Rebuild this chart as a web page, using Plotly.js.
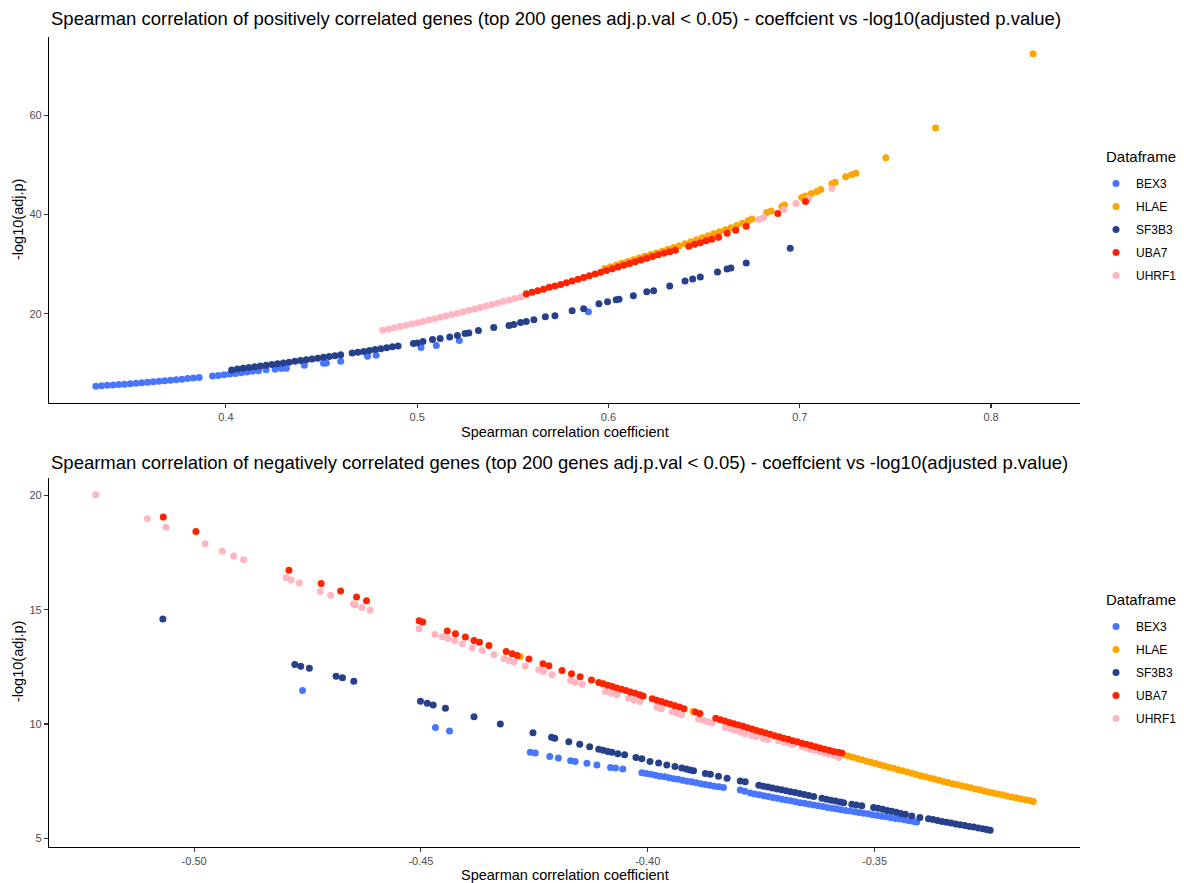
<!DOCTYPE html>
<html>
<head>
<meta charset="utf-8">
<script src="https://cdn.plot.ly/plotly-3.0.1.min.js"></script>
<style>html,body{margin:0;padding:0;background:#fff;}#chart{width:1184px;height:883px;}</style>
</head>
<body>
<div id="chart"></div>
<script>
// ---------- Data ----------
const seriesNames = ["BEX3", "HLAE", "SF3B3", "UBA7", "UHRF1"];
const seriesColors = ["#4876FF", "#FFA500", "#27408B", "#FF2400", "#FFB6C1"];

// Top panel: positively correlated genes
const posBEX3x = [0.332,0.335,0.338,0.341,0.344,0.347,0.350,0.353,0.356,0.359,0.362,0.365,0.368,0.371,0.374,0.377,0.380,0.383,0.386,0.393,0.396,0.399,0.402,0.405,0.408,0.411,0.414,0.417,0.421,0.4257,0.4290,0.4316,0.4410,0.4510,0.4525,0.4600,0.4740,0.4785,0.5020,0.5100,0.5220,0.5895];
const posBEX3y = [5.40,5.48,5.56,5.64,5.72,5.80,5.89,5.98,6.07,6.17,6.27,6.37,6.47,6.58,6.69,6.80,6.92,7.04,7.16,7.44,7.56,7.69,7.82,7.96,8.10,8.24,8.38,8.52,8.70,8.80,8.95,9.00,9.60,10.00,10.05,10.40,11.40,11.60,13.20,13.60,14.60,20.40];

const posHLAEx = [0.598,0.601,0.604,0.607,0.610,0.613,0.616,0.619,0.622,0.625,0.628,0.631,0.634,0.637,0.640,0.643,0.646,0.649,0.652,0.655,0.658,0.661,0.664,0.667,0.670,0.673,0.675,0.6827,0.685,0.6906,0.692,0.701,0.703,0.706,0.709,0.711,0.7168,0.7185,0.724,0.727,0.7293,0.745,0.771,0.822];
const posHLAEy = [29.1,29.45,29.8,30.15,30.5,30.85,31.2,31.55,31.9,32.25,32.6,33.0,33.35,33.7,34.1,34.5,34.9,35.3,35.7,36.1,36.5,36.9,37.3,37.75,38.2,38.7,39.1,40.4,40.7,41.6,41.9,43.4,43.7,44.2,44.6,45.0,46.2,46.5,47.6,48.0,48.3,51.4,57.4,72.4];

const posSF3B3x = [0.403,0.406,0.409,0.412,0.415,0.418,0.421,0.424,0.427,0.430,0.433,0.436,0.439,0.442,0.445,0.448,0.451,0.454,0.457,0.460,0.466,0.469,0.472,0.475,0.478,0.481,0.484,0.487,0.490,0.498,0.500,0.503,0.508,0.512,0.517,0.521,0.525,0.527,0.532,0.540,0.548,0.5505,0.554,0.557,0.561,0.567,0.572,0.581,0.587,0.595,0.5995,0.604,0.6055,0.613,0.620,0.6236,0.632,0.640,0.644,0.648,0.657,0.662,0.664,0.672,0.695];
const posSF3B3y = [8.67,8.83,8.98,9.14,9.29,9.45,9.60,9.76,9.92,10.07,10.23,10.39,10.55,10.71,10.87,11.03,11.20,11.37,11.54,11.71,12.06,12.23,12.40,12.58,12.76,12.94,13.12,13.31,13.50,14.0,14.1,14.4,14.8,15.0,15.3,15.6,16.0,16.1,16.6,17.2,17.6,17.8,18.2,18.4,18.8,19.4,19.6,20.6,21.0,22.0,22.4,22.8,22.9,23.6,24.4,24.6,25.6,26.6,27.0,27.4,28.4,29.0,29.2,30.2,33.2];

const posUBA7x = [0.557,0.560,0.563,0.566,0.569,0.572,0.575,0.578,0.581,0.584,0.587,0.590,0.593,0.596,0.599,0.602,0.605,0.608,0.611,0.614,0.617,0.620,0.623,0.626,0.629,0.632,0.635,0.642,0.645,0.648,0.651,0.654,0.6576,0.662,0.6665,0.672,0.6885,0.703];
const posUBA7y = [24.0,24.3,24.6,24.9,25.3,25.6,25.9,26.25,26.6,26.95,27.3,27.65,28.0,28.35,28.7,29.05,29.4,29.75,30.1,30.45,30.8,31.15,31.5,31.85,32.2,32.5,32.8,33.6,34.0,34.3,34.7,35.0,35.4,36.2,36.8,37.6,40.2,42.6];

const posUHRF1x = [0.482,0.485,0.488,0.491,0.494,0.497,0.500,0.503,0.506,0.509,0.512,0.515,0.518,0.521,0.524,0.527,0.530,0.533,0.536,0.539,0.542,0.545,0.548,0.551,0.554,0.557,0.6785,0.681,0.6916,0.698,0.7047,0.7168];
const posUHRF1y = [16.65,16.9,17.15,17.4,17.65,17.9,18.15,18.42,18.7,18.98,19.26,19.54,19.82,20.1,20.38,20.67,20.96,21.25,21.55,21.85,22.15,22.45,22.76,23.07,23.38,23.7,39.0,39.4,41.0,42.2,43.2,45.2];

// Bottom panel: negatively correlated genes
const negBEX3x = [-0.4761,-0.4468,-0.4437,-0.4259,-0.4248,-0.4216,-0.4197,-0.4170,-0.4160,-0.4134,-0.4112,-0.4082,-0.4071,-0.4055,-0.4013,-0.4003,-0.3993,-0.3983,-0.3973,-0.3963,-0.3953,-0.3943,-0.3933,-0.3923,-0.3913,-0.3903,-0.3893,-0.3883,-0.3873,-0.3863,-0.3853,-0.3843,-0.3833,-0.3796,-0.3786,-0.3774,-0.3764,-0.3754,-0.3744,-0.3734,-0.3724,-0.3714,-0.3704,-0.3694,-0.3684,-0.3674,-0.3664,-0.3654,-0.3644,-0.3634,-0.3624,-0.3614,-0.3604,-0.3594,-0.3584,-0.3574,-0.3564,-0.3554,-0.3544,-0.3534,-0.3524,-0.3514,-0.3504,-0.3494,-0.3484,-0.3474,-0.3464,-0.3454,-0.3444,-0.3434,-0.3424,-0.3414,-0.3407];
const negBEX3y = [11.46,9.85,9.69,8.76,8.73,8.58,8.51,8.39,8.36,8.28,8.21,8.10,8.07,8.03,7.87,7.83,7.80,7.76,7.72,7.69,7.65,7.61,7.58,7.54,7.50,7.47,7.43,7.39,7.35,7.32,7.28,7.25,7.22,7.11,7.06,6.98,6.94,6.90,6.86,6.83,6.79,6.75,6.71,6.68,6.64,6.60,6.56,6.53,6.49,6.46,6.42,6.39,6.35,6.32,6.29,6.25,6.22,6.19,6.16,6.13,6.10,6.07,6.03,6.00,5.97,5.94,5.90,5.87,5.84,5.81,5.77,5.74,5.71];

const negHLAEx = [-0.4281,-0.4100,-0.4015,-0.3900,-0.3820,-0.3700,-0.3620,-0.3568,-0.3558,-0.3548,-0.3538,-0.3528,-0.3518,-0.3508,-0.3498,-0.3488,-0.3478,-0.3468,-0.3458,-0.3448,-0.3438,-0.3428,-0.3418,-0.3408,-0.3398,-0.3388,-0.3378,-0.3368,-0.3358,-0.3348,-0.3338,-0.3328,-0.3318,-0.3308,-0.3298,-0.3288,-0.3278,-0.3268,-0.3258,-0.3248,-0.3238,-0.3228,-0.3218,-0.3208,-0.3198,-0.3188,-0.3178,-0.3168,-0.3158,-0.3150];
const negHLAEy = [12.95,11.76,11.24,10.55,10.05,9.34,8.92,8.66,8.60,8.55,8.49,8.44,8.38,8.33,8.27,8.22,8.16,8.11,8.06,8.00,7.95,7.90,7.85,7.79,7.74,7.69,7.64,7.59,7.54,7.49,7.44,7.39,7.35,7.30,7.25,7.21,7.16,7.12,7.07,7.03,6.98,6.94,6.90,6.85,6.81,6.77,6.73,6.69,6.65,6.61];

const negSF3B3x = [-0.5069,-0.4778,-0.4765,-0.4746,-0.4687,-0.4673,-0.4648,-0.4501,-0.4486,-0.4473,-0.4446,-0.4383,-0.4325,-0.4253,-0.4212,-0.4205,-0.4174,-0.4150,-0.4128,-0.4108,-0.4098,-0.4088,-0.4079,-0.4066,-0.4051,-0.4026,-0.4013,-0.3995,-0.3976,-0.3958,-0.3940,-0.3925,-0.3915,-0.3907,-0.3899,-0.3873,-0.3862,-0.3844,-0.3825,-0.3796,-0.3785,-0.3755,-0.3745,-0.3735,-0.3725,-0.3715,-0.3705,-0.3695,-0.3685,-0.3675,-0.3665,-0.3655,-0.3645,-0.3634,-0.3616,-0.3606,-0.3596,-0.3586,-0.3576,-0.3568,-0.3550,-0.3540,-0.3528,-0.3502,-0.3492,-0.3482,-0.3472,-0.3462,-0.3452,-0.3442,-0.3432,-0.3418,-0.3400,-0.3381,-0.3371,-0.3361,-0.3351,-0.3341,-0.3331,-0.3321,-0.3311,-0.3301,-0.3291,-0.3281,-0.3271,-0.3261,-0.3253,-0.3245];
const negSF3B3y = [14.59,12.60,12.53,12.44,12.09,12.02,11.87,11.00,10.91,10.83,10.69,10.32,10.00,9.62,9.42,9.38,9.22,9.11,9.00,8.90,8.85,8.80,8.76,8.70,8.65,8.54,8.48,8.36,8.29,8.21,8.14,8.07,8.03,7.99,7.95,7.84,7.80,7.71,7.63,7.51,7.47,7.32,7.28,7.24,7.20,7.16,7.12,7.08,7.04,7.00,6.96,6.92,6.87,6.83,6.75,6.71,6.67,6.63,6.59,6.56,6.49,6.46,6.42,6.35,6.31,6.27,6.22,6.18,6.14,6.09,6.05,5.98,5.91,5.86,5.82,5.78,5.74,5.70,5.67,5.63,5.59,5.56,5.52,5.49,5.45,5.42,5.39,5.35];

const negUBA7x = [-0.5068,-0.4996,-0.4791,-0.4720,-0.4677,-0.4642,-0.4620,-0.4504,-0.4496,-0.4442,-0.4424,-0.4402,-0.4383,-0.4371,-0.4350,-0.4312,-0.4299,-0.4288,-0.4262,-0.4231,-0.4218,-0.4189,-0.4168,-0.4149,-0.4124,-0.4108,-0.4098,-0.4088,-0.4078,-0.4068,-0.4058,-0.4048,-0.4038,-0.4028,-0.4018,-0.4010,-0.3990,-0.3980,-0.3970,-0.3960,-0.3950,-0.3940,-0.3930,-0.3920,-0.3895,-0.3885,-0.3850,-0.3840,-0.3830,-0.3820,-0.3810,-0.3800,-0.3790,-0.3780,-0.3770,-0.3760,-0.3750,-0.3740,-0.3730,-0.3720,-0.3710,-0.3700,-0.3690,-0.3680,-0.3670,-0.3660,-0.3650,-0.3640,-0.3630,-0.3620,-0.3610,-0.3600,-0.3590,-0.3580,-0.3572];
const negUBA7y = [19.05,18.42,16.72,16.15,15.82,15.56,15.39,14.52,14.46,14.07,13.95,13.80,13.65,13.58,13.43,13.17,13.07,13.00,12.84,12.63,12.55,12.34,12.20,12.07,11.93,11.82,11.76,11.70,11.64,11.58,11.52,11.46,11.40,11.34,11.28,11.23,11.10,11.04,10.98,10.92,10.86,10.80,10.74,10.67,10.52,10.46,10.25,10.19,10.13,10.07,10.01,9.96,9.90,9.84,9.78,9.72,9.66,9.61,9.55,9.49,9.44,9.38,9.33,9.27,9.22,9.16,9.11,9.06,9.00,8.95,8.90,8.85,8.80,8.76,8.73];

const negUHRF1x = [-0.5217,-0.5103,-0.5062,-0.4976,-0.4938,-0.4913,-0.4891,-0.4797,-0.4786,-0.4768,-0.4722,-0.4699,-0.4649,-0.4645,-0.4630,-0.4612,-0.4504,-0.4469,-0.4453,-0.4440,-0.4425,-0.4409,-0.4387,-0.4365,-0.4339,-0.4317,-0.4306,-0.4295,-0.4270,-0.4240,-0.4230,-0.4211,-0.4170,-0.4160,-0.4145,-0.4093,-0.4080,-0.4068,-0.4042,-0.4030,-0.4017,-0.3980,-0.3970,-0.3946,-0.3935,-0.3925,-0.3888,-0.3878,-0.3868,-0.3858,-0.3829,-0.3818,-0.3808,-0.3795,-0.3785,-0.3770,-0.3760,-0.3745,-0.3735,-0.3711,-0.3700,-0.3690,-0.3680,-0.3660,-0.3650,-0.3640,-0.3630,-0.3620,-0.3610,-0.3600,-0.3590,-0.3579];
const negUHRF1y = [20.03,18.98,18.61,17.88,17.56,17.35,17.18,16.40,16.30,16.17,15.80,15.63,15.25,15.22,15.10,14.97,14.17,13.92,13.82,13.74,13.64,13.51,13.34,13.21,13.03,12.85,12.78,12.71,12.53,12.37,12.30,12.15,11.90,11.83,11.74,11.42,11.34,11.27,11.13,11.05,10.98,10.73,10.67,10.54,10.47,10.41,10.22,10.16,10.10,10.04,9.85,9.79,9.73,9.65,9.56,9.50,9.45,9.37,9.32,9.27,9.21,9.16,9.10,9.00,8.95,8.89,8.84,8.79,8.73,8.68,8.62,8.54];

const posTitle = "Spearman correlation of positively correlated genes (top 200 genes adj.p.val < 0.05) - coeffcient vs -log10(adjusted p.value)";
const negTitle = "Spearman correlation of negatively correlated genes (top 200 genes adj.p.val < 0.05) - coeffcient vs -log10(adjusted p.value)";
const xTitle = "Spearman correlation coefficient";
const yTitle = "-log10(adj.p)";
const legendTitle = "Dataframe";
const posXTicks = [0.4, 0.5, 0.6, 0.7, 0.8];
const posXTickText = ["0.4", "0.5", "0.6", "0.7", "0.8"];
const posYTicks = [20, 40, 60];
const negXTicks = [-0.50, -0.45, -0.40, -0.35];
const negXTickText = ["-0.50", "-0.45", "-0.40", "-0.35"];
const negYTicks = [5, 10, 15, 20];

// ---------- Build traces ----------
const posData = {BEX3:[posBEX3x,posBEX3y], HLAE:[posHLAEx,posHLAEy], SF3B3:[posSF3B3x,posSF3B3y], UBA7:[posUBA7x,posUBA7y], UHRF1:[posUHRF1x,posUHRF1y]};
const negData = {BEX3:[negBEX3x,negBEX3y], HLAE:[negHLAEx,negHLAEy], SF3B3:[negSF3B3x,negSF3B3y], UBA7:[negUBA7x,negUBA7y], UHRF1:[negUHRF1x,negUHRF1y]};
// drawing order (bottom to top)
const drawOrder = ["BEX3", "HLAE", "SF3B3", "UHRF1", "UBA7"];

const traces = [];
[[posData, "x", "y", "legend", "p"], [negData, "x2", "y2", "legend2", "n"]].forEach(([d, xa, ya, lg, pre]) => {
  drawOrder.forEach(name => {
    const i = seriesNames.indexOf(name);
    traces.push({
      type: "scatter", mode: "markers",
      x: d[name][0], y: d[name][1],
      xaxis: xa, yaxis: ya, legend: lg,
      name: name, legendgroup: pre + name, legendrank: i + 1,
      marker: {color: seriesColors[i], size: 7, line: {width: 0}},
      hoverinfo: "x+y+name"
    });
  });
});

const fontFam = "Liberation Sans, Arial, Helvetica, sans-serif";
const axisCommon = {
  showgrid: false, zeroline: false, showline: true, linecolor: "#000000", linewidth: 1.1,
  ticks: "outside", ticklen: 4, tickwidth: 1.1, tickcolor: "#333333",
  tickfont: {family: fontFam, size: 11, color: "#4D4D4D"}, automargin: false
};
const xDom = [49/1184, 1080/1184];

const legendCommon = {
  xref: "paper", yref: "paper", x: 1096/1184, xanchor: "left", yanchor: "top",
  font: {family: fontFam, size: 12, color: "#000"},
  traceorder: "grouped", tracegroupgap: 4,
  bgcolor: "rgba(0,0,0,0)", borderwidth: 0
};

function ann(text, x, y, size, extra) {
  return Object.assign({text: text, xref: "paper", yref: "paper", x: x/1184, y: (883 - y)/883,
    xanchor: "left", yanchor: "middle", showarrow: false,
    font: {family: fontFam, size: size, color: "#000"}}, extra || {});
}

const layout = {
  width: 1184, height: 883,
  margin: {l: 0, r: 0, t: 0, b: 0},
  paper_bgcolor: "#ffffff", plot_bgcolor: "#ffffff",
  font: {family: fontFam},
  showlegend: true,
  xaxis: Object.assign({}, axisCommon, {domain: xDom, anchor: "y", range: [0.3075, 0.8465], tickvals: posXTicks, ticktext: posXTickText}),
  yaxis: Object.assign({}, axisCommon, {domain: [480/883, 846/883], anchor: "x", range: [2.0, 75.75], tickvals: posYTicks}),
  xaxis2: Object.assign({}, axisCommon, {domain: xDom, anchor: "y2", range: [-0.5320, -0.3047], tickvals: negXTicks, ticktext: negXTickText}),
  yaxis2: Object.assign({}, axisCommon, {domain: [36/883, 405/883], anchor: "x2", range: [4.62, 20.76], tickvals: negYTicks}),
  legend: Object.assign({}, legendCommon, {y: (883 - 169)/883}),
  legend2: Object.assign({}, legendCommon, {y: (883 - 612)/883}),
  annotations: [
    ann(posTitle, 49, 18, 18.5),
    ann(negTitle, 49, 463, 18.5),
    ann(xTitle, 564.5, 432, 14.5, {xanchor: "center"}),
    ann(xTitle, 564.5, 875, 14.5, {xanchor: "center"}),
    ann(yTitle, 18, 220, 14.5, {xanchor: "center", textangle: -90}),
    ann(yTitle, 18, 662, 14.5, {xanchor: "center", textangle: -90}),
    ann(legendTitle, 1104, 156, 15),
    ann(legendTitle, 1104, 600, 15)
  ]
};

Plotly.newPlot("chart", traces, layout, {displayModeBar: false, staticPlot: true});
</script>
</body>
</html>
